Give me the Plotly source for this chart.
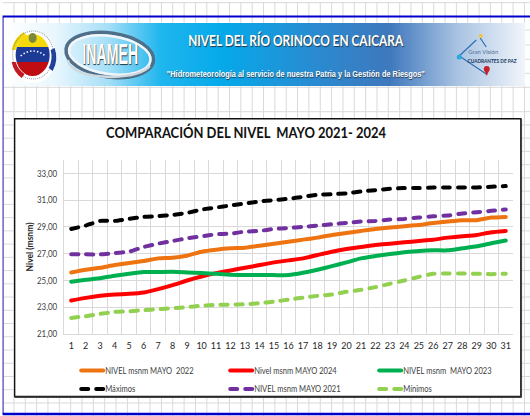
import base64
import plotly.graph_objects as go

# ---------- data ----------
days = list(range(1, 32))
y_ticks = [21, 23, 25, 27, 29, 31, 33]
nivel_2022 = [25.6,25.8,25.95,26.15,26.3,26.45,26.65,26.7,26.85,27.15,27.3,27.4,27.45,27.6,27.75,27.9,28.05,28.2,28.4,28.55,28.7,28.85,28.95,29.05,29.15,29.3,29.4,29.5,29.5,29.7,29.75]
nivel_2024 = [23.5,23.7,23.85,23.95,24.0,24.1,24.35,24.65,25.0,25.3,25.55,25.75,25.95,26.15,26.35,26.5,26.65,26.9,27.15,27.35,27.5,27.65,27.75,27.85,27.95,28.05,28.2,28.3,28.4,28.6,28.7]
nivel_2023 = [24.9,25.05,25.17,25.35,25.5,25.63,25.63,25.65,25.6,25.55,25.5,25.43,25.4,25.4,25.4,25.4,25.57,25.8,26.07,26.35,26.65,26.82,26.97,27.1,27.2,27.25,27.25,27.4,27.55,27.78,27.98]
maximos = [28.85,29.1,29.45,29.45,29.6,29.75,29.8,29.9,30.05,30.3,30.45,30.6,30.75,30.9,31.0,31.1,31.25,31.4,31.45,31.5,31.65,31.75,31.85,31.9,31.9,31.95,31.95,31.95,31.95,32.0,32.05]
nivel_2021 = [26.95,26.95,26.95,27.05,27.15,27.5,27.75,27.95,28.15,28.3,28.45,28.5,28.65,28.7,28.85,28.92,29.0,29.1,29.2,29.3,29.4,29.45,29.55,29.6,29.7,29.8,29.85,30.0,30.1,30.2,30.3]
minimos = [22.2,22.33,22.5,22.65,22.7,22.78,22.85,22.93,23.0,23.12,23.17,23.2,23.22,23.3,23.42,23.57,23.72,23.85,23.95,24.15,24.3,24.5,24.75,25.0,25.27,25.5,25.52,25.52,25.5,25.47,25.5]

W, H = 530, 416
L, R, T, B = 64.3, 512.7, 160, 334
GRID = "#d9d9d9"

def fx(x): return (x - L) / (R - L)
def fy(y): return (B - y) / (B - T)

shapes = []
def seg(x0, y0, x1, y1, color=GRID, width=1):
    shapes.append(dict(type="line", xref="paper", yref="paper", x0=fx(x0), y0=fy(y0), x1=fx(x1), y1=fy(y1),
                       line=dict(color=color, width=width), layer="below"))

# spreadsheet background
vgrid = [14.3 + 11.33 * i for i in range(46)]
hgrid = [2.7, 87.3] + [111.7 + 13.24 * i for i in range(23)]
for x in vgrid:
    seg(x, 2.7, x, 23)
    seg(x, 86, x, H)
seg(525, 30, W, 30); seg(525, 45, W, 45); seg(525, 59.3, W, 59.3); seg(525, 73.3, W, 73.3)
for y in hgrid:
    seg(3, y, W, y)
seg(3.5, 17, 3.5, 414, "#6a62c8", 1.5)
seg(3, 16.5, W, 16.5, "#0000cc", 2)
seg(3, 414, W, 414, "#0000cc", 2.5)

# chart box
shapes.append(dict(type="rect", xref="paper", yref="paper", x0=fx(15), x1=fx(520.5), y0=fy(396.5), y1=fy(118.8),
                   fillcolor="white", line=dict(color="#111111", width=1.4), layer="below"))
seg(521, 119, 521, 397.5, "#444444", 1.5)
seg(15, 397.3, 521, 397.3, "#444444", 1.5)

# banner artwork (gradient and logo outlines)
svg = '''<svg xmlns="http://www.w3.org/2000/svg" width="521" height="63" viewBox="4 23 521 63">
<defs><linearGradient id="g" x1="0" x2="1" y1="0" y2="0">
<stop offset="0" stop-color="#ffffff"/><stop offset="0.1" stop-color="#e8f6fd"/>
<stop offset="0.2" stop-color="#a6dff7"/><stop offset="0.3" stop-color="#20b6ee"/>
<stop offset="0.42" stop-color="#05a9ea"/><stop offset="0.6" stop-color="#2a8ad0"/>
<stop offset="0.74" stop-color="#3f78bd"/><stop offset="0.87" stop-color="#a9c3e2"/>
<stop offset="1" stop-color="#f1f5fb"/></linearGradient>
<clipPath id="c"><ellipse cx="33" cy="55" rx="17" ry="21"/></clipPath></defs>
<rect x="4" y="23" width="521" height="63" fill="url(#g)"/>
<ellipse cx="33.5" cy="57" rx="23" ry="26" fill="#ffffff"/>
<path d="M12 50 A23 26 0 0 1 24 32 L27 36 A19 22 0 0 0 16 50 Z" fill="#f4d90f"/>
<path d="M55 48 A23 26 0 0 1 53 71 L49 68 A19 22 0 0 0 51 50 Z" fill="#1d3f9e"/>
<path d="M12 62 A23 26 0 0 0 22 78 L25 74 A19 22 0 0 1 16 62 Z" fill="#c8141c"/>
<g clip-path="url(#c)"><rect x="14" y="30" width="40" height="17" fill="#f5d90a"/>
<rect x="14" y="47" width="40" height="15" fill="#1d3a96"/><rect x="14" y="62" width="40" height="16" fill="#c00d12"/></g>
<ellipse cx="33" cy="38" rx="4" ry="5" fill="#7b8a3a"/>
<path d="M21 56 Q33 46 46 56" fill="none" stroke="#ffffff" stroke-width="1.5" stroke-dasharray="1.5 2"/>
<ellipse cx="33.5" cy="55" rx="20.5" ry="24" fill="none" stroke="#556" stroke-width="1" stroke-dasharray="1 1" opacity="0.6"/>
<ellipse cx="110" cy="55" rx="44" ry="22" fill="none" stroke="#4f6f88" stroke-width="3.5" transform="rotate(8 110 55)"/>
<ellipse cx="110" cy="55" rx="41" ry="19" fill="none" stroke="#f2f6fa" stroke-width="2.5" transform="rotate(8 110 55)"/>
<path d="M68 60 Q72 76 112 77 Q142 76 150 66" fill="none" stroke="#cfd8df" stroke-width="2.5"/>
<path d="M476 40 L459 56 L486 74 M480 38 L486 47" fill="none" stroke="#2a6fb5" stroke-width="1.2"/>
<circle cx="480.5" cy="36" r="2" fill="#f3c63a"/><circle cx="459" cy="57" r="2.5" fill="#29a7df"/>
<circle cx="486.5" cy="69" r="3" fill="#c8202a"/><path d="M484 70 L486.5 76 L489 70 Z" fill="#c8202a"/>
</svg>'''
banner_uri = "data:image/svg+xml;base64," + base64.b64encode(svg.encode()).decode()

fig = go.Figure()
def add(name, vals, color, dash=None, width=4):
    fig.add_trace(go.Scatter(x=days, y=vals, name=name, mode="lines",
                             line=dict(color=color, width=width, dash=dash or "solid", shape="spline", smoothing=0.4)))

add("NIVEL msnm MAYO  2022", nivel_2022, "#ed7410")
add("Nivel msnm MAYO 2024", nivel_2024, "#ff0000")
add("NIVEL msnm  MAYO 2023", nivel_2023, "#00b050")
add("Máximos", maximos, "#000000", "7px,8px")
add("NIVEL msnm MAYO 2021", nivel_2021, "#7030a0", "7px,8px")
add("Mínimos", minimos, "#92d050", "7px,8px")

def note(text, x, y, size, color="white", family="Lato", bold=True, shadow=None, anchor="center", angle=0):
    fig.add_annotation(xref="paper", yref="paper", x=fx(x), y=fy(y), text=f"<b>{text}</b>" if bold else text,
                       showarrow=False, xanchor=anchor, yanchor="middle", textangle=angle,
                       font=dict(size=size, color=color, family=family, shadow=shadow or "none"))

SUB = "\"Hidrometeorología al servicio de nuestra Patria y la Gestión de Riesgos\""
note("NIVEL DEL RÍO ORINOCO EN CAICARA", 296, 40, 16, shadow="1px 1px 1px #23384d")
note(SUB, 296, 74, 8.8, family="Liberation Sans", shadow="0.5px 0.5px 1px #23384d")
note("INAMEH", 110, 54, 29, family="Liberation Sans", shadow="1px 1px 1px #2b3a4a")
note("Gran Visión", 483, 51.5, 6, color="#4d6f96", bold=False)
note("CUADRANTES DE PAZ", 492.5, 60, 6, color="#17365d")
note("COMPARACIÓN DEL NIVEL  MAYO 2021- 2024", 247, 132, 15, color="#111111")

fig.update_layout(
    width=W, height=H, autosize=False,
    margin=dict(l=L, r=W - R, t=T, b=H - B, pad=0, autoexpand=False),
    paper_bgcolor="white", plot_bgcolor="rgba(0,0,0,0)",
    separators=",.",
    font=dict(family="Lato", color="#404040"),
    shapes=shapes,
    images=[dict(source=banner_uri, xref="paper", yref="paper", x=fx(4), y=fy(23),
                 sizex=fx(525) - fx(4), sizey=fy(23) - fy(86), xanchor="left", yanchor="top",
                 sizing="stretch", layer="below")],
    xaxis=dict(range=[0.5, 31.5], tickmode="array", tickvals=days, ticktext=[str(d) for d in days],
               showgrid=False, zeroline=False, showline=True, linecolor=GRID, linewidth=1, ticks="",
               tickfont=dict(size=9, color="#262626", family="Lato"), tickangle=0, ticklabelstandoff=3,
               minor=dict(tick0=0.5, dtick=1, showgrid=True, gridcolor=GRID, gridwidth=1.3)),
    yaxis=dict(range=[21, 34], tickmode="array", tickvals=y_ticks, tickformat=".2f",
               showgrid=True, gridcolor=GRID, gridwidth=1.3, zeroline=False, showline=True, linecolor=GRID, linewidth=1,
               ticks="", ticklen=0, ticklabelstandoff=4, tickfont=dict(size=9, color="#404040", family="Lato"),
               title=dict(text="<b>Nivel (msnm)</b>", font=dict(size=8.5, color="#262626", family="Lato"), standoff=3)),
    legend=dict(orientation="h", traceorder="normal", x=fx(76.5), xref="paper", y=1 - 359 / H, yref="container",
                xanchor="left", yanchor="top",
                entrywidth=104, entrywidthmode="pixels", itemwidth=30, bgcolor="rgba(0,0,0,0)",
                font=dict(size=9, color="#404040", family="Lato"), tracegroupgap=0),
)

post = """
document.body.style.margin='0';document.body.style.overflow='hidden';
function squeeze(t,len){t.setAttribute('textLength',len);t.setAttribute('lengthAdjust','spacingAndGlyphs');}
var TARGET={'NIVEL DEL RÍO ORINOCO EN CAICARA':215,'INAMEH':56,'Gran Visión':30,'CUADRANTES DE PAZ':49,
 'COMPARACIÓN DEL NIVEL  MAYO 2021- 2024':280};
TARGET[%s]=258;
function fix(){
 document.querySelectorAll('.scatterlayer path.js-line').forEach(function(p){p.style.strokeLinecap='round';});
 document.querySelectorAll('.legendlines path').forEach(function(p){p.style.strokeLinecap='round';p.setAttribute('d','M5,0h22');});
 document.querySelectorAll('.annotation-text').forEach(function(t){var k=t.textContent;if(TARGET[k])squeeze(t,TARGET[k]);});
 document.querySelectorAll('.legendtext').forEach(function(t){
   if(!t.dataset.w){t.dataset.w=t.getComputedTextLength();}
   squeeze(t,t.dataset.w*0.84);t.setAttribute('x',29);});
 document.querySelectorAll('.ytick text').forEach(function(t){
   if(!t.dataset.w){t.dataset.w=t.getComputedTextLength();}
   squeeze(t,t.dataset.w*0.88);});
 var yt=document.querySelector('.g-ytitle');if(yt){yt.setAttribute('transform','translate(4,0)');}
 var items=document.querySelectorAll('.legend .traces');var y0=null;
 items.forEach(function(g){
   if(!g.dataset.tr){g.dataset.tr=g.getAttribute('transform');}
   var m=g.dataset.tr.match(/translate\\(([-0-9.]+),\\s*([-0-9.]+)\\)/);if(!m)return;
   var y=parseFloat(m[2]);if(y0===null)y0=y;
   if(y>y0+2){y=y0+18.4;}
   g.setAttribute('transform','translate('+m[1]+','+(y-3)+')');
 });
}
fix();setTimeout(fix,100);setTimeout(fix,400);
""" % repr(SUB)

fig.write_html("out.html", post_script=post, config={"displayModeBar": False})
